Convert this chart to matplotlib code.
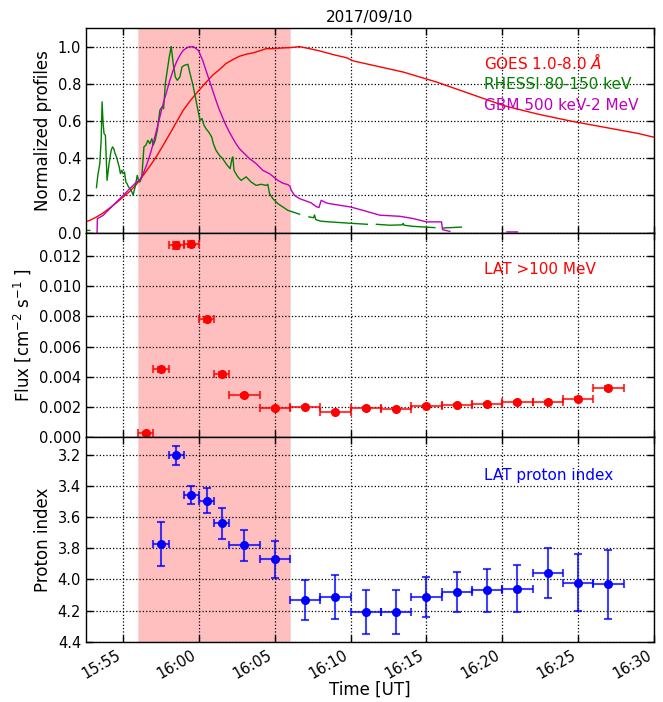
import numpy as np
import pandas as pd
import matplotlib
matplotlib.use("Agg")
import matplotlib.pyplot as plt
import matplotlib.dates as mdates

nan = np.nan

# light curves, time in minutes after 15:55 UT, normalized values
goes_t = [-2.64, -2.2, -1.76, -1.32, -0.88, -0.44, 0.0, 0.44, 0.88, 1.32, 1.76, 2.2, 2.64,
          3.08, 3.52, 3.96, 4.41, 4.85, 5.29, 5.9, 6.34, 6.78, 7.23, 7.66, 8.11, 8.55, 8.99,
          9.43, 9.87, 10.53, 11.08, 11.63, 12.29, 12.95, 13.85, 14.74, 15.18, 16.28, 18.48,
          20.69, 22.89, 25.09, 27.3, 29.5, 31.7, 33.9, 35.0]
goes_v = [0.054, 0.066, 0.084, 0.106, 0.133, 0.161, 0.192, 0.222, 0.26, 0.308, 0.357, 0.41,
          0.47, 0.532, 0.595, 0.658, 0.708, 0.751, 0.792, 0.846, 0.876, 0.909, 0.93, 0.948,
          0.959, 0.966, 0.977, 0.989, 0.989, 0.993, 0.995, 1.0, 0.989, 0.977, 0.957, 0.94,
          0.923, 0.903, 0.863, 0.809, 0.746, 0.683, 0.638, 0.6, 0.567, 0.534, 0.513]

rhessi_t = [-2.62, -2.2, nan,
            -1.76, -1.67, -1.54, -1.45, -1.39, -1.32, -1.26, -1.17, -1.06, -0.93, -0.79, -0.7,
            -0.62, -0.53, -0.44, -0.35, -0.26, -0.18, -0.09, 0.0, 0.09, 0.18, 0.26, 0.35, 0.44,
            0.53, 0.66, 0.73, 0.79, 0.93, 1.01, 1.1, 1.23, 1.37, 1.5, 1.63, 1.76, 1.89, 1.98,
            2.11, 2.25, 2.42, 2.56, 2.67, 2.78, 2.91, 3.04, 3.17, 3.3, 3.44, 3.57, 3.74, 3.88,
            4.05, 4.27, 4.41, 4.58, 4.76, 4.93, 5.07, 5.2, 5.33, 5.46, 5.64, 5.84, 5.95, 6.12,
            6.34, 6.56, 6.78, 7.05, 7.18, 7.23, 7.31, 7.56, 7.78, 8.11, 8.44, 8.77, 9.1, 9.43,
            9.54, 9.65, 9.87, 10.2, 10.53, 10.86, 11.19, 11.63, nan,
            12.25, 12.55, 12.62, 12.7, 13.0, 13.61, 14.71, 15.5, 16.1, nan,
            16.7, 17.58, 18.4, 18.46, 18.52, 19.12, 20.55, nan,
            21.1, 22.3]
rhessi_v = [0.012, 0.012, nan,
            0.242, 0.308, 0.371, 0.496, 0.703, 0.586, 0.532, 0.523, 0.281, 0.371, 0.443, 0.461,
            0.452, 0.425, 0.407, 0.38, 0.353, 0.317, 0.335, 0.317, 0.326, 0.272, 0.263, 0.246,
            0.237, 0.228, 0.201, 0.228, 0.246, 0.308, 0.281, 0.272, 0.299, 0.461, 0.47, 0.496,
            0.478, 0.505, 0.47, 0.496, 0.55, 0.658, 0.676, 0.667, 0.801, 0.873, 0.944, 1.0,
            0.909, 0.837, 0.819, 0.837, 0.891, 0.9, 0.905, 0.855, 0.801, 0.729, 0.658, 0.604,
            0.613, 0.577, 0.559, 0.541, 0.514, 0.478, 0.443, 0.416, 0.398, 0.371, 0.344, 0.4,
            0.407, 0.335, 0.3, 0.281, 0.3, 0.272, 0.254, 0.26, 0.254, 0.26, 0.21, 0.183, 0.156,
            0.138, 0.12, 0.111, 0.099, nan,
            0.085, 0.08, 0.095, 0.07, 0.062, 0.058, 0.052, 0.048, 0.045, nan,
            0.045, 0.04, 0.042, 0.05, 0.04, 0.034, 0.027, nan,
            0.025, 0.03]

gbm_t = [-1.72, -1.7, -1.32, -0.88, -0.44, 0.0, 0.44, 0.88, 1.1, 1.32, 1.54, 1.76, 1.98, 2.2,
         2.42, 2.64, 2.86, 3.08, 3.3, 3.52, 3.74, 3.96, 4.3, 4.63, 4.96, 5.24, 5.46, 5.68, 5.9,
         6.12, 6.34, 6.56, 6.78, 7.0, 7.22, 7.44, 7.66, 7.88, 8.11, 8.33, 8.55, 8.77, 8.99,
         9.21, 9.43, 9.65, 9.87, 10.2, 10.53, 10.86, 11.0, 11.08, 11.3, 11.63, 12.07, 12.4,
         12.73, 12.91, 13.06, 13.39, 13.61, 15.0, 15.81, 16.92, 18.24, 19.12, 20.0, 20.99,
         21.06, 21.54, nan, 25.3, 26.0]
gbm_v = [0.0, 0.075, 0.093, 0.129, 0.165, 0.2, 0.237, 0.272, 0.281, 0.317, 0.362, 0.416,
         0.478, 0.55, 0.622, 0.694, 0.756, 0.819, 0.873, 0.918, 0.953, 0.98, 0.998, 1.0, 0.98,
         0.927, 0.873, 0.819, 0.765, 0.711, 0.661, 0.618, 0.577, 0.541, 0.509, 0.478, 0.452,
         0.434, 0.416, 0.398, 0.385, 0.371, 0.353, 0.335, 0.326, 0.317, 0.303, 0.281, 0.266,
         0.258, 0.25, 0.228, 0.2, 0.183, 0.17, 0.16, 0.14, 0.135, 0.174, 0.16, 0.156, 0.138,
         0.12, 0.094, 0.088, 0.076, 0.058, 0.058, 0.016, 0.007, nan, 0.004, 0.004]

# LAT time bins: centre and half width (minutes after 15:55 UT)
lat_t = [1.5, 2.5, 3.5, 4.5, 5.5, 6.5, 8, 10, 12, 14, 16, 18, 20, 22, 24, 26, 28, 30, 32]
lat_dt = [0.5, 0.5, 0.5, 0.5, 0.5, 0.5, 1, 1, 1, 1, 1, 1, 1, 1, 1, 1, 1, 1, 1]
lat_flux = [0.00026, 0.0045, 0.01272, 0.0128, 0.00781, 0.00417, 0.00279, 0.00191, 0.0020,
            0.00167, 0.00191, 0.00187, 0.00209, 0.00215, 0.00222, 0.00231, 0.00231, 0.00257,
            0.00325]
lat_flux_err = [0.0001, 0.00015, 0.00022, 0.00022, 0.00018, 0.00015, 0.0001, 0.00008, 0.00008,
                0.00008, 0.00008, 0.00008, 0.00008, 0.00008, 0.00008, 0.00008, 0.00008,
                0.0001, 0.00012]

# proton index: no value for the first bin
idx_t = lat_t[1:]
idx_dt = lat_dt[1:]
idx_val = [3.772, 3.206, 3.459, 3.497, 3.64, 3.781, 3.871, 4.131, 4.11, 4.211, 4.21, 4.11,
           4.08, 4.07, 4.06, 3.96, 4.02, 4.03]
idx_err = [0.141, 0.061, 0.059, 0.08, 0.10, 0.10, 0.12, 0.13, 0.14, 0.141, 0.14, 0.128, 0.13,
           0.14, 0.15, 0.16, 0.18, 0.22]

shade = [1.0, 11.0]
t0 = pd.Timestamp("2017-09-10 15:55:00")


def to_num(minutes):
    m = np.asarray(minutes, dtype=float)
    return mdates.date2num(t0.to_pydatetime()) + m / 1440.0


fig = plt.figure(figsize=(6.63, 7.02), dpi=100)
left, right, bottom, top = 0.1297, 0.9864, 0.0855, 0.9601
h = (top - bottom) / 3
ax1 = fig.add_axes([left, bottom + 2 * h, right - left, h])
ax2 = fig.add_axes([left, bottom + h, right - left, h], sharex=ax1)
ax3 = fig.add_axes([left, bottom, right - left, h], sharex=ax1)

for ax in (ax1, ax2, ax3):
    ax.axvspan(to_num(shade[0]), to_num(shade[1]), color="red", alpha=0.25, lw=1,
               ec="0.8", zorder=0)
    ax.grid(True, linestyle=":", color="k", lw=0.9)
    ax.tick_params(direction="in", top=True, right=True, length=5, width=1, labelsize=10.5)
    for s in ax.spines.values():
        s.set_linewidth(1.0)

# top: normalized profiles
ax1.plot(to_num(goes_t), goes_v, color="red", lw=1)
ax1.plot(to_num(rhessi_t), rhessi_v, color="green", lw=1)
ax1.plot(to_num(gbm_t), gbm_v, color="m", lw=1)
ax1.set_ylim(0, 1.1)
ax1.set_yticks([0.0, 0.2, 0.4, 0.6, 0.8, 1.0])
ax1.set_ylabel("Normalized profiles", fontsize=12)
ax1.set_title("2017/09/10", fontsize=11, pad=4)
ax1.text(0.70, 0.80, r"GOES 1.0-8.0 $\AA$", color="red", fontsize=11, transform=ax1.transAxes)
ax1.text(0.70, 0.70, "RHESSI 80-150 keV", color="green", fontsize=11, transform=ax1.transAxes)
ax1.text(0.70, 0.598, "GBM 500 keV-2 MeV", color="m", fontsize=11, transform=ax1.transAxes)

# middle: LAT flux
ax2.errorbar(to_num(lat_t), lat_flux, xerr=np.array(lat_dt) / 1440.0, yerr=lat_flux_err,
             fmt="o", color="red", ecolor=(1, 0, 0, 0.75), ms=5.5, capsize=3, elinewidth=1.5,
             capthick=1.5)
ax2.set_ylim(0, 0.01355)
ax2.set_yticks(np.arange(0, 0.0121, 0.002))
ax2.yaxis.set_major_formatter(matplotlib.ticker.FormatStrFormatter("%.3f"))
ax2.set_ylabel(r"Flux [cm$^{-2}$ s$^{-1}$ ]", fontsize=12)
ax2.text(0.70, 0.80, "LAT >100 MeV", color="red", fontsize=11, transform=ax2.transAxes)

# bottom: proton index
ax3.errorbar(to_num(idx_t), idx_val, xerr=np.array(idx_dt) / 1440.0, yerr=idx_err,
             fmt="o", color="blue", ecolor=(0, 0, 1, 0.75), ms=5.5, capsize=3, elinewidth=1.5,
             capthick=1.5)
ax3.set_ylim(4.4, 3.09)
ax3.set_yticks(np.arange(3.2, 4.41, 0.2))
ax3.yaxis.set_major_formatter(matplotlib.ticker.FormatStrFormatter("%.1f"))
ax3.set_ylabel("Proton index", fontsize=12)
ax3.text(0.70, 0.79, "LAT proton index", color="blue", fontsize=11, transform=ax3.transAxes)

ax3.set_xlim(to_num(-2.45), to_num(35.0))
ax3.xaxis.set_major_locator(mdates.MinuteLocator(byminute=range(0, 60, 5)))
ax3.xaxis.set_major_formatter(mdates.DateFormatter("%H:%M"))
plt.setp(ax1.get_xticklabels(), visible=False)
plt.setp(ax2.get_xticklabels(), visible=False)
plt.setp(ax3.get_xticklabels(), rotation=30, ha="right")
ax3.tick_params(axis="x", pad=4)
ax3.set_xlabel("Time [UT]", fontsize=12, labelpad=-1)

fig.savefig("out.png", dpi=100)
